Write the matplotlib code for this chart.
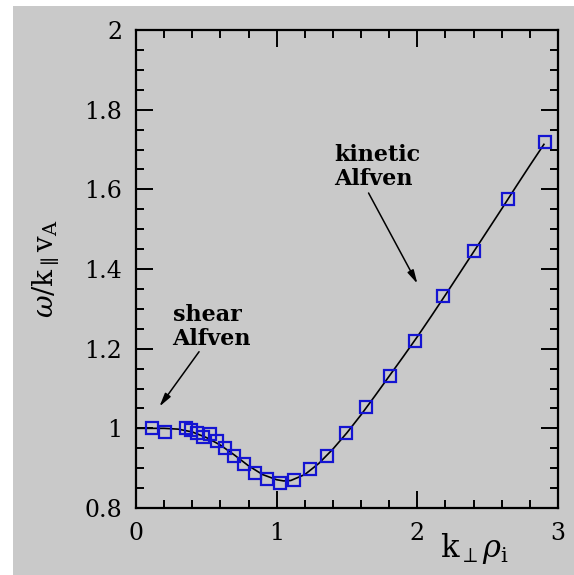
import numpy as np
import matplotlib.pyplot as plt
from matplotlib.patches import Rectangle

# simulation points (open squares)
k_pts = [0.112, 0.207, 0.356, 0.390, 0.432, 0.475, 0.527, 0.575, 0.634, 0.694,
         0.765, 0.848, 0.931, 1.026, 1.121, 1.235, 1.359, 1.490, 1.638, 1.808,
         1.985, 2.186, 2.403, 2.643, 2.909]
w_pts = [1.000, 0.992, 1.002, 0.996, 0.988, 0.978, 0.986, 0.968, 0.951, 0.931,
         0.910, 0.887, 0.872, 0.864, 0.871, 0.897, 0.931, 0.988, 1.053, 1.132,
         1.219, 1.331, 1.444, 1.575, 1.718]

# theory curve
k_line = [0.0, 0.1, 0.2, 0.3, 0.4, 0.5, 0.6, 0.7, 0.8, 0.9, 1.0, 1.05, 1.1, 1.2,
          1.3, 1.4, 1.5, 1.6, 1.7, 1.8, 1.9, 2.0, 2.1, 2.2, 2.3, 2.4, 2.5,
          2.6, 2.7, 2.8, 2.9]
w_line = [1.000, 1.000, 1.000, 0.998, 0.991, 0.977, 0.958, 0.933, 0.906, 0.884,
          0.871, 0.868, 0.869, 0.884, 0.912, 0.948, 0.989, 1.034, 1.082, 1.131,
          1.180, 1.230, 1.282, 1.335, 1.389, 1.443, 1.497, 1.551, 1.606, 1.660,
          1.713]

plt.rcParams['font.family'] = 'DejaVu Serif'
plt.rcParams['mathtext.fontset'] = 'dejavuserif'

fig = plt.figure(figsize=(5.74, 5.75), dpi=100)
fig.patch.set_facecolor('white')
gray = '#c9c9c9'
fig.patches.append(Rectangle((13/574, 0), 1 - 13/574, 1 - 6/575, transform=fig.transFigure,
                             facecolor=gray, edgecolor='none', zorder=-10))

ax = fig.add_axes([0.2369, 0.1165, 0.7352, 0.8313])
ax.set_facecolor(gray)

ax.plot(k_line, w_line, color='black', lw=1.2, zorder=2)
ax.plot(k_pts, w_pts, linestyle='none', marker='s', markersize=8.5,
        markerfacecolor='none', markeredgecolor='#1414d2', markeredgewidth=1.6, zorder=3)

ax.set_xlim(0, 3)
ax.set_ylim(0.8, 2)
ax.set_xticks([0, 1, 2, 3])
ax.set_xticklabels(['0', '1', '2', '3'])
ax.set_xticks(np.arange(0, 3.01, 0.2), minor=True)
ax.set_yticks([0.8, 1.0, 1.2, 1.4, 1.6, 1.8, 2.0])
ax.set_yticklabels(['0.8', '1', '1.2', '1.4', '1.6', '1.8', '2'])
ax.set_yticks(np.arange(0.8, 2.001, 0.05), minor=True)
ax.tick_params(which='both', direction='in', top=True, right=True, width=1.4)
ax.tick_params(which='major', length=12, labelsize=17, pad=10)
ax.tick_params(which='minor', length=6)
for s in ax.spines.values():
    s.set_linewidth(1.6)

ax.set_ylabel(r'$\omega/\mathrm{k}_{\parallel}\mathrm{v}_{\mathrm{A}}$', fontsize=20, labelpad=16)
ax.text(0.803, -0.084, r'$\mathrm{k}_{\perp}\rho_{\mathrm{i}}$', transform=ax.transAxes,
        fontsize=22, ha='center', va='center')

ax.text(0.26, 1.21, 'shear\nAlfven', fontsize=16, fontweight='bold',
        ha='left', va='baseline', linespacing=1.1)
ax.text(1.41, 1.611, 'kinetic\nAlfven', fontsize=16, fontweight='bold',
        ha='left', va='baseline', linespacing=1.1)
arrow = dict(arrowstyle='-|>,head_length=0.8,head_width=0.2', color='black', lw=1.1)
ax.annotate('', xy=(0.155, 1.049), xytext=(0.46, 1.198), arrowprops=arrow)
ax.annotate('', xy=(2.01, 1.357), xytext=(1.644, 1.597), arrowprops=arrow)

fig.savefig('out.png', dpi=100, facecolor=fig.get_facecolor())
